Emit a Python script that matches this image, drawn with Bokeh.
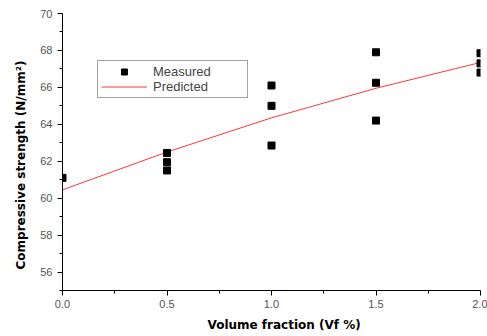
from bokeh.plotting import figure
from bokeh.models import Range1d, Legend, LegendItem, Title, FixedTicker
from bokeh.embed import file_html
from bokeh.resources import INLINE

# Measured data
meas_x = [0.0, 0.5, 0.5, 0.5, 1.0, 1.0, 1.0, 1.5, 1.5, 1.5, 2.0, 2.0, 2.0]
meas_y = [61.1, 62.45, 61.95, 61.5, 66.1, 65.0, 62.85, 67.9, 66.25, 64.2, 67.85, 67.3, 66.8]

# Predicted curve
pred_x = [0.0, 0.5, 1.0, 1.5, 2.0]
pred_y = [60.45, 62.5, 64.35, 65.95, 67.35]

x_ticks = [0.0, 0.5, 1.0, 1.5, 2.0]
y_ticks = [56, 58, 60, 62, 64, 66, 68, 70]

p = figure(width=487, height=336, output_backend="svg", toolbar_location=None,
           x_range=Range1d(0, 2), y_range=Range1d(55, 70),
           min_border_left=62, min_border_right=7, min_border_top=13, min_border_bottom=45)
p.outline_line_color = None
p.xgrid.visible = False
p.ygrid.visible = False
p.background_fill_color = "white"

r_pred = p.line(pred_x, pred_y, line_color="#ff3838", line_width=1)
r_meas = p.scatter(meas_x, meas_y, marker="square", size=7, fill_color="black", line_color="black")

for ax in (p.xaxis[0], p.yaxis[0]):
    ax.axis_line_color = "black"
    ax.major_tick_line_color = "black"
    ax.minor_tick_line_color = "black"
    ax.major_tick_out = 5
    ax.major_tick_in = 0
    ax.minor_tick_out = 3
    ax.minor_tick_in = 0
    ax.major_label_text_font = "Liberation Sans"
    ax.major_label_text_font_size = "11px"
    ax.major_label_text_color = "#555555"

p.xaxis[0].major_label_standoff = 4
p.xaxis[0].ticker = FixedTicker(ticks=x_ticks, minor_ticks=[0.25, 0.75, 1.25, 1.75])
p.yaxis[0].ticker = FixedTicker(ticks=y_ticks, minor_ticks=[55, 57, 59, 61, 63, 65, 67, 69])
p.xaxis[0].major_label_overrides = {v: f"{v:.1f}" for v in x_ticks}

t_kw = dict(text_font="DejaVu Sans", text_font_style="bold", text_color="black")
p.add_layout(Title(text="Compressive strength (N/mm\u00b2)", align="left", offset=21,
                   text_font_size="12px", standoff=20, **t_kw), "left")
p.add_layout(Title(text="Volume fraction (Vf %)", align="left", offset=145,
                   text_font_size="12px", standoff=10, **t_kw), "below")

legend = Legend(items=[LegendItem(label="Measured", renderers=[r_meas]),
                       LegendItem(label="Predicted", renderers=[r_pred])],
                location=(35, 192))
legend.label_text_font = "Liberation Sans"
legend.label_text_font_size = "13px"
legend.label_height = 15
legend.glyph_height = 15
legend.glyph_width = 46
legend.label_width = 91
legend.spacing = 0
legend.padding = 3
legend.margin = 0
legend.border_line_color = "#444444"
legend.label_standoff = 6
p.add_layout(legend)

open("out.html", "w").write(file_html(p, INLINE))
